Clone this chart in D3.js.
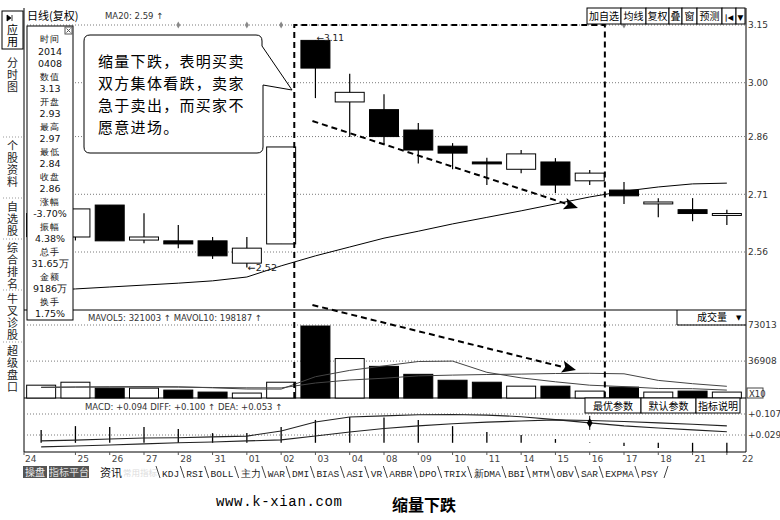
<!DOCTYPE html>
<html><head><meta charset="utf-8">
<script src="https://cdn.jsdelivr.net/npm/d3@7"></script>
<style>
body{margin:0;background:#fff;}
svg{display:block;}
text{font-family:"DejaVu Sans",sans-serif;}
.cjk{font-family:"Noto Sans CJK SC",sans-serif;}
.mono{font-family:"Liberation Mono","DejaVu Sans Mono",monospace;}
.vert{writing-mode:vertical-rl;font-family:"Noto Sans CJK SC",sans-serif;}
</style></head><body>
<svg id="c" width="780" height="520"></svg>
<script>
// ---------------- data ----------------
const dates = ["0324","0325","0326","0327","0328","0331","0401","0402","0403","0404","0408","0409","0410","0411","0414","0415","0416","0417","0418","0421","0422"];
const tickLabels = ["24","25","26","27","28","31","01","02","03","04","08","09","10","11","14","15","16","17","18","21","22"];
const openP  = [2.60,2.599,2.682,2.591,2.589,2.589,2.531,2.581,3.11,2.95,2.93,2.877,2.835,2.794,2.775,2.794,2.745,2.721,2.685,2.67,2.655];
const highP  = [2.68,2.67,2.682,2.661,2.63,2.599,2.599,2.833,3.11,3.023,2.97,2.895,2.843,2.805,2.825,2.804,2.773,2.742,2.70,2.70,2.67];
const lowP   = [2.59,2.59,2.589,2.583,2.57,2.542,2.52,2.581,2.96,2.859,2.84,2.79,2.775,2.734,2.765,2.713,2.734,2.685,2.65,2.64,2.63];
const closeP = [2.66,2.672,2.589,2.599,2.581,2.55,2.57,2.833,3.038,2.975,2.86,2.825,2.817,2.789,2.815,2.734,2.765,2.706,2.69,2.66,2.66];
const ma20   = [2.459,2.464,2.469,2.474,2.479,2.485,2.495,2.524,2.55,2.573,2.596,2.614,2.633,2.65,2.667,2.685,2.703,2.718,2.729,2.737,2.739];
const volume = [12826,15786,9866,9866,7893,5920,4933,15786,72000,39466,31650,23680,17760,15786,11840,11840,6907,10853,5920,6907,5920];
const mavol5 = [10500,11000,11200,11400,11200,10200,9000,8900,21300,27600,32100,36500,36900,25700,20100,16200,12800,11400,9500,9300,7900];
const mavol10= [10800,10900,11000,11000,10900,10500,10200,10100,15000,18000,19800,22100,22900,23500,23900,24500,24700,24200,17600,14300,11700];
const diff   = [0.007,0.010,0.014,0.018,0.019,0.022,0.025,0.044,0.077,0.096,0.100,0.104,0.105,0.103,0.097,0.086,0.074,0.063,0.055,0.048,0.041];
const dea    = [-0.015,-0.012,-0.008,-0.004,0.000,0.003,0.007,0.011,0.025,0.040,0.053,0.063,0.071,0.077,0.081,0.085,0.083,0.079,0.074,0.069,0.063];
const macd   = [0.048,0.062,0.059,0.059,0.051,0.036,0.036,0.059,0.085,0.096,0.094,0.085,0.062,0.040,0.029,0.014,0.002,-0.012,-0.019,-0.034,-0.038];
const priceTicks = [3.15,3.00,2.86,2.71,2.56];
const volTicks = [73013,36908];
const macdTicks = [0.107,0.029];
const infoLines = ["时间","2014","0408","数值","3.13","开盘","2.93","最高","2.97","最低","2.84","收盘","2.86","涨幅","-3.70%","振幅","4.38%","总手","31.65万","金额","9186万","换手","1.75%"];
const noteLines = ["缩量下跌，表明买卖","双方集体看跌，卖家","急于卖出，而买家不","愿意进场。"];
const sideItems = ["分时图","个股资料","自选股","综合排名","牛叉诊股","超级盘口"];
const topButtons = ["加自选","均线","复权","叠","窗","预测","|◀","▼"];
const indButtons = ["最优参数","默认参数","指标说明"];
const tabs = ["KDJ","RSI","BOLL","主力","WAR","DMI","BIAS","ASI","VR","ARBR","DPO","TRIX","新DMA","BBI","MTM","OBV","SAR","EXPMA","PSY"];
const mineDates = ["0328","0401","0402","0417"];

// ---------------- layout ----------------
const svg = d3.select("#c");
const L = 24, R = 746;
const x = d3.scaleBand().domain(dates).range([24, 744]);
const cx = d => x(d) + x.bandwidth()/2;
const bw = 29;
const yP = d3.scaleLinear().domain([2.56, 3.15]).range([252, 25]);
const yV = d3.scaleLinear().domain([0, 73013]).range([398, 325]);
const yM = d3.scaleLinear().domain([0.029, 0.107]).range([435, 414]);
const grid = "#7a7a7a";

// frame lines
svg.append("line").attr("x1",L).attr("x2",L).attr("y1",8).attr("y2",452).attr("stroke","#000");
svg.append("line").attr("x1",R).attr("x2",R).attr("y1",8).attr("y2",452).attr("stroke","#000");
[310,398,452].forEach(yy=>svg.append("line").attr("x1",L).attr("x2",R).attr("y1",yy).attr("y2",yy).attr("stroke","#000"));

// dotted grids
function dots(yy){svg.append("line").attr("x1",L).attr("x2",R).attr("y1",yy).attr("y2",yy).attr("stroke",grid).attr("stroke-dasharray","1,2");}
priceTicks.forEach(v=>dots(yP(v)));
volTicks.forEach(v=>dots(yV(v)));
macdTicks.forEach(v=>dots(yM(v)));

// right axes
const axP = svg.append("g").attr("transform",`translate(${R},0)`).call(d3.axisRight(yP).tickValues(priceTicks.slice(1)).tickSize(0).tickPadding(2).tickFormat(d3.format(".2f")));
const axV = svg.append("g").attr("transform",`translate(${R},0)`).call(d3.axisRight(yV).tickValues(volTicks).tickSize(0).tickPadding(2).tickFormat(d3.format("d")));
const axM = svg.append("g").attr("transform",`translate(${R},0)`).call(d3.axisRight(yM).tickValues(macdTicks).tickSize(0).tickPadding(2).tickFormat(d=>"+"+d3.format(".3f")(d)));
[axP,axV,axM].forEach(a=>{a.select(".domain").remove();a.selectAll("text").attr("font-size",9).attr("fill","#333").attr("font-family","DejaVu Sans");});
// X10 box
svg.append("rect").attr("x",747).attr("y",388).attr("width",16).attr("height",10).attr("fill","#fff").attr("stroke","#444");
svg.append("text").attr("x",749).attr("y",396.5).attr("font-size",8.5).attr("fill","#333").text("X10");

// MA20 line
svg.append("path").datum(ma20).attr("fill","none").attr("stroke","#000").attr("stroke-width",1)
  .attr("d",d3.line().x((d,i)=>cx(dates[i])).y(d=>yP(d)));

// candles
const cg = svg.append("g");
dates.forEach((d,i)=>{
  const o=openP[i], c=closeP[i], up=c>=o;
  cg.append("line").attr("x1",cx(d)).attr("x2",cx(d)).attr("y1",yP(highP[i])).attr("y2",yP(lowP[i])).attr("stroke","#000").attr("stroke-width",1.2);
  const top=yP(Math.max(o,c)), h=Math.max(1.5,Math.abs(yP(o)-yP(c)));
  cg.append("rect").attr("x",cx(d)-bw/2).attr("y",top).attr("width",bw).attr("height",h)
    .attr("fill",up?"#fff":"#000").attr("stroke","#000").attr("stroke-width",1);
});
// high / low markers
const iHi = d3.maxIndex(highP), iLo = d3.minIndex(lowP);
svg.append("text").attr("x",cx(dates[iHi])+1).attr("y",yP(highP[iHi])+1).attr("font-size",9).attr("fill","#222").text("←"+highP[iHi].toFixed(2));
svg.append("text").attr("x",cx(dates[iLo])+1).attr("y",yP(lowP[iLo])+4).attr("font-size",9.5).attr("fill","#222").text("←"+lowP[iLo].toFixed(2));

// mine markers
mineDates.forEach(d=>{
  svg.append("path").attr("d",d3.symbol(d3.symbolDiamond,14)()).attr("transform",`translate(${cx(d)},25)`).attr("fill","#888");
});

// volume bars
dates.forEach((d,i)=>{
  const up=closeP[i]>=openP[i];
  svg.append("rect").attr("x",cx(d)-bw/2).attr("y",yV(volume[i])).attr("width",bw).attr("height",yV(0)-yV(volume[i]))
    .attr("fill",up?"#fff":"#000").attr("stroke","#000").attr("stroke-width",1);
});
[mavol5,mavol10].forEach(arr=>svg.append("path").datum(arr).attr("fill","none").attr("stroke","#444").attr("stroke-width",1)
  .attr("d",d3.line().x((d,i)=>cx(dates[i])).y(d=>yV(d))));

// MACD
dates.forEach((d,i)=>{
  svg.append("line").attr("x1",cx(d)).attr("x2",cx(d)).attr("y1",yM(0)).attr("y2",yM(macd[i])).attr("stroke","#000").attr("stroke-width",1.3);
});
[diff,dea].forEach(arr=>svg.append("path").datum(arr).attr("fill","none").attr("stroke","#222").attr("stroke-width",1.1)
  .attr("d",d3.line().x((d,i)=>cx(dates[i])).y(d=>yM(d))));
// cross marker
const iX = dates.indexOf("0416");
svg.append("path").attr("d",d3.symbol(d3.symbolDiamond,28)()).attr("transform",`translate(${cx(dates[iX])},${yM(diff[iX])})`).attr("fill","#000");
svg.append("line").attr("x1",cx(dates[iX])).attr("x2",cx(dates[iX])).attr("y1",yM(diff[iX])-7).attr("y2",yM(diff[iX])+7).attr("stroke","#000");

// x axis labels
dates.forEach((d,i)=>{
  let xx = cx(d)+2;
  if(i===0) xx = L+1;
  if(i===dates.length-1) xx = 742;
  svg.append("line").attr("x1",i===0?L:cx(d)).attr("x2",i===0?L:cx(d)).attr("y1",452).attr("y2",455).attr("stroke","#555");
  svg.append("text").attr("x",xx).attr("y",462).attr("font-size",9).attr("fill","#444").text(tickLabels[i]);
});

// panel texts
svg.append("text").attr("x",27).attr("y",20).attr("font-size",11).attr("class","cjk").text("日线(复权)");
svg.append("text").attr("x",105).attr("y",19).attr("font-size",8.5).attr("fill","#333").text("MA20: 2.59 ↑");
svg.append("text").attr("x",88).attr("y",321).attr("font-size",8.5).attr("fill","#333").text("MAVOL5: 321003 ↑  MAVOL10: 198187 ↑");
svg.append("text").attr("x",85).attr("y",410).attr("font-size",8.5).attr("fill","#333").text("MACD: +0.094   DIFF: +0.100 ↑  DEA: +0.053 ↑");

// 成交量 box
svg.append("path").attr("d","M677,310V325H746").attr("fill","none").attr("stroke","#000");
svg.append("text").attr("x",697).attr("y",321).attr("font-size",10).attr("class","cjk").text("成交量");
svg.append("text").attr("x",736).attr("y",320).attr("font-size",7).text("▼");

// indicator buttons
{let bx=585;const widths=[56,55,44];
indButtons.forEach((t,i)=>{
  svg.append("rect").attr("x",bx).attr("y",398).attr("width",widths[i]).attr("height",15).attr("fill","#fff").attr("stroke","#000");
  svg.append("text").attr("x",bx+widths[i]/2).attr("y",410).attr("text-anchor","middle").attr("font-size",10).attr("class","cjk").text(t);
  bx+=widths[i];
});}

// top buttons
{let bx=587;const widths=[34,25,23,13,15,25,14,9];
topButtons.forEach((t,i)=>{
  svg.append("rect").attr("x",bx).attr("y",8).attr("width",widths[i]).attr("height",16).attr("fill","#fff").attr("stroke","#000");
  svg.append("text").attr("x",bx+widths[i]/2).attr("y",20).attr("text-anchor","middle").attr("font-size",i>=6?7.5:10).attr("class",i>=6?"":"cjk").attr("font-weight",i===6?"bold":"normal").text(t);
  bx+=widths[i];
});}
svg.append("text").attr("x",748).attr("y",28).attr("font-size",9).attr("fill","#333").text("3.15");

// dashed annotation
const dashG = svg.append("g").attr("stroke","#000").attr("stroke-width",2).attr("stroke-dasharray","6,4").attr("fill","none");
const xl = x("0403")-4, xr = x("0417")-2;
dashG.append("path").attr("d",`M${xl},398V25H${xr}V398`);
dashG.append("line").attr("x1",cx("0403")-3).attr("y1",121).attr("x2",570).attr("y2",205);
dashG.append("line").attr("x1",cx("0403")-3).attr("y1",305).attr("x2",567).attr("y2",368);
function arrowHead(x2,y2,ang){
  svg.append("path").attr("d","M0,0L-14,-6L-11,0L-14,6Z").attr("transform",`translate(${x2},${y2}) rotate(${ang})`).attr("fill","#000");
}
arrowHead(578,208,Math.atan2(84,258)*180/Math.PI);
arrowHead(576,370,Math.atan2(63,255)*180/Math.PI);

// callout
svg.append("path").attr("d","M90,35H256Q262,35 262,41V46L292,90L263,85V147Q263,153 257,153H90Q84,153 84,147V41Q84,35 90,35Z")
  .attr("fill","#fff").attr("stroke","#000").attr("stroke-width",1);
noteLines.forEach((s,i)=>svg.append("text").attr("x",98).attr("y",67+i*22).attr("font-size",15).attr("letter-spacing",1.3).attr("class","cjk").attr("fill","#000").text(s));

// info box
svg.append("rect").attr("x",27).attr("y",26).attr("width",46).attr("height",294).attr("fill","#fff").attr("stroke","#000");
svg.append("rect").attr("x",65).attr("y",27).attr("width",7).attr("height",7).attr("fill","#fff").attr("stroke","#555");
svg.append("path").attr("d","M66.5,28.5L70.5,32.5M70.5,28.5L66.5,32.5").attr("stroke","#555");
infoLines.forEach((s,i)=>{
  const isCjk = /[\u4e00-\u9fff]/.test(s) && !/\d/.test(s);
  svg.append("text").attr("x",50).attr("y",42+i*12.5).attr("text-anchor","middle").attr("fill","#111")
    .attr("font-size",isCjk?8.6:9.5).attr("letter-spacing",isCjk?1.2:0)
    .attr("font-family",isCjk?"Noto Sans CJK SC":"Liberation Mono").text(s);
});

// sidebar
svg.append("rect").attr("x",2).attr("y",11).attr("width",21).attr("height",38).attr("fill","#fff").attr("stroke","#000");
svg.append("path").attr("d","M7,15L11,18L7,21Z M12,15V21").attr("fill","#000").attr("stroke","#000").attr("stroke-width",0.8);
svg.append("text").attr("class","vert").attr("x",12.5).attr("y",24).attr("font-size",11).attr("letter-spacing",1).text("应用");
const sideStart = [57,140,201,242,293,345];
sideItems.forEach((s,k)=>{
  svg.append("text").attr("class","vert").attr("x",12.5).attr("y",sideStart[k]).attr("font-size",11).attr("letter-spacing",1).attr("fill","#222").text(s);
  if(k>0) svg.append("line").attr("x1",3).attr("x2",22).attr("y1",sideStart[k]-3).attr("y2",sideStart[k]-3).attr("stroke","#999").attr("stroke-dasharray","1,2");
});

// bottom tabs
svg.append("rect").attr("x",23).attr("y",466).attr("width",24).attr("height",12).attr("fill","#555");
svg.append("text").attr("x",35).attr("y",476).attr("text-anchor","middle").attr("font-size",10).attr("class","cjk").attr("fill","#eee").text("操盘");
svg.append("rect").attr("x",49).attr("y",466).attr("width",40).attr("height",12).attr("fill","#555");
svg.append("text").attr("x",69).attr("y",476).attr("text-anchor","middle").attr("font-size",10).attr("class","cjk").attr("fill","#ddd").text("指标平台");
svg.append("text").attr("x",100).attr("y",477).attr("font-size",11).attr("class","cjk").attr("fill","#111").text("资讯");
svg.append("text").attr("x",123).attr("y",476).attr("font-size",8.5).attr("class","cjk").attr("fill","#ddd").text("常用指标");
{
  const tg = svg.append("g");
  const items = tabs.map(t=>tg.append("text").attr("y",477).attr("font-size",9.5).attr("class","mono").attr("fill","#222").text(t));
  const wsum = d3.sum(items,n=>n.node().getComputedTextLength());
  const gap = (658-162-wsum)/(tabs.length-1);
  let xx=162;
  items.forEach((n,i)=>{
    n.attr("x",xx);
    const w=n.node().getComputedTextLength();
    svg.append("line").attr("x1",xx-6).attr("x2",xx-2).attr("y1",466).attr("y2",478).attr("stroke","#444");
    xx+=w+gap;
  });
  svg.append("line").attr("x1",664).attr("x2",668).attr("y1",478).attr("y2",466).attr("stroke","#444");
}

// footer
svg.append("text").attr("x",216).attr("y",506).attr("font-size",14).attr("class","mono").attr("textLength",126).text("www.k-xian.com");
svg.append("text").attr("x",392).attr("y",511).attr("font-size",16).attr("class","cjk").attr("font-weight","bold").text("缩量下跌");
</script>
</body></html>
